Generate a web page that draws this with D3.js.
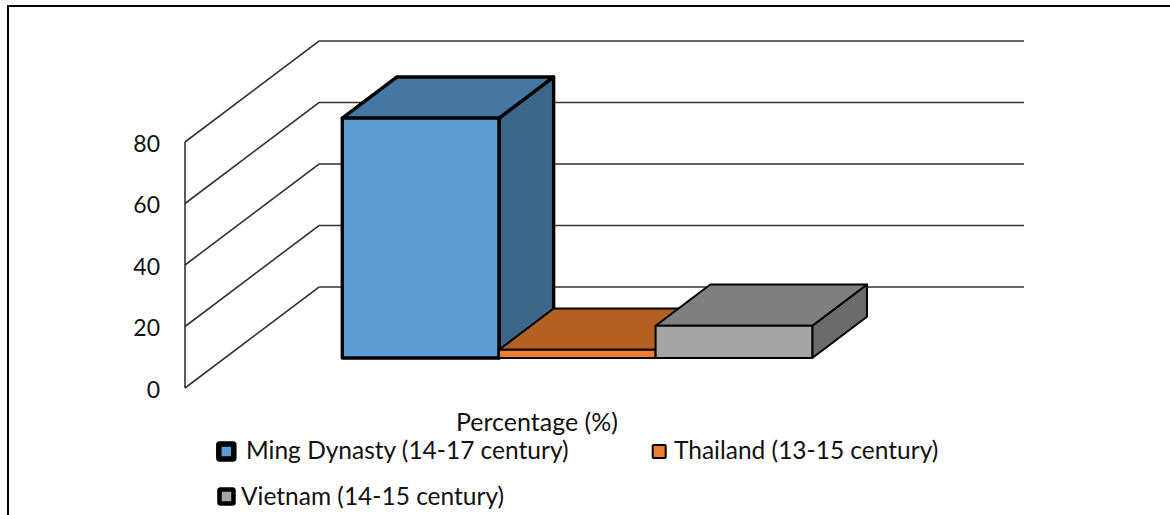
<!DOCTYPE html>
<html>
<head>
<meta charset="utf-8">
<script src="https://cdn.jsdelivr.net/npm/d3@7/dist/d3.min.js"></script>
<style>
  html, body { margin: 0; padding: 0; background: #fff; overflow: hidden; }
  svg { display: block; }
  text { font-family: Lato, "Open Sans", sans-serif; fill: #111; }
</style>
</head>
<body>
<svg id="chart" width="1170" height="515"></svg>
<script>
var seriesNames = ["Ming Dynasty (14-17 century)", "Thailand (13-15 century)", "Vietnam (14-15 century)"];
var seriesValues = [78, 2.7, 10.5];
var tickValues = [0, 20, 40, 60, 80];
var axisTitle = "Percentage (%)";
var frontColors = ["#5b9bd5", "#ed7d31", "#a5a5a5"];
var topColors = ["#4677a3", "#b36022", "#7f7f7f"];
var sideColors = ["#3b6589", "#a45820", "#6b6b6b"];

var svg = d3.select("#chart");

// 3d box projection: depth 0 is the front of the floor, depth 1 the back wall
var depthX = d3.scaleLinear().domain([0, 1]).range([0, 134]);
var depthY = d3.scaleLinear().domain([0, 1]).range([0, -101]);
var y = d3.scaleLinear().domain([0, 80]).range([388, 142]);
var x = d3.scaleBand().domain(seriesNames).range([185, 890]).paddingInner(0).paddingOuter(0.75);
var barDepth = [0.297, 0.705];

function point(px, value, depth) {
  return [px + depthX(depth), y(value) + depthY(depth)];
}

// frame of the pasted figure, open on the right
svg.append("path")
  .attr("d", "M8,515V6H1170")
  .attr("fill", "none")
  .attr("stroke", "#000")
  .attr("stroke-width", 2);

function drawGrid() {
  var grid = svg.append("g")
    .attr("fill", "none")
    .attr("stroke", "#333")
    .attr("stroke-width", 1.6);
  var line = d3.line();

  grid.selectAll("path.grid")
    .data(tickValues)
    .enter().append("path")
    .attr("class", "grid")
    .attr("d", function(d) {
      return line([point(x.range()[0], d, 0), point(x.range()[0], d, 1), point(x.range()[1], d, 1)]);
    });

  grid.append("path")
    .attr("d", line([point(x.range()[0], 0, 0), point(x.range()[0], 80, 0)]));
}

function drawAxis() {
  var axis = d3.axisLeft(y).tickValues(tickValues).tickSize(0).tickPadding(25);
  var g = svg.append("g")
    .attr("transform", "translate(185,2)")
    .call(axis);
  g.select(".domain").remove();
  g.selectAll("text")
    .attr("font-size", 23)
    .style("font-family", "Lato, sans-serif");
}

function drawBars() {
  var line = d3.line();
  var bars = svg.selectAll("g.bar")
    .data(seriesNames)
    .enter().append("g")
    .attr("class", "bar")
    .attr("stroke", "#000")
    .attr("stroke-linejoin", "round")
    .attr("stroke-width", function(d, i) { return i === 0 ? 3.4 : 2; });

  bars.append("path")
    .attr("fill", function(d, i) { return sideColors[i]; })
    .attr("d", function(d, i) {
      var l = x(d) + x.bandwidth();
      return line([point(l, 0, barDepth[0]), point(l, 0, barDepth[1]),
        point(l, seriesValues[i], barDepth[1]), point(l, seriesValues[i], barDepth[0])]) + "Z";
    });

  bars.append("path")
    .attr("fill", function(d, i) { return topColors[i]; })
    .attr("d", function(d, i) {
      var l = x(d), r = l + x.bandwidth(), v = seriesValues[i];
      return line([point(l, v, barDepth[0]), point(l, v, barDepth[1]),
        point(r, v, barDepth[1]), point(r, v, barDepth[0])]) + "Z";
    });

  bars.append("path")
    .attr("fill", function(d, i) { return frontColors[i]; })
    .attr("d", function(d, i) {
      var l = x(d), r = l + x.bandwidth(), v = seriesValues[i];
      return line([point(l, 0, barDepth[0]), point(l, v, barDepth[0]),
        point(r, v, barDepth[0]), point(r, 0, barDepth[0])]) + "Z";
    });
}

function drawLegend() {
  var legendPos = [
    { sx: 218.8, sy: 444, size: 15, sw: 5.5, tx: 246, ty: 459 },
    { sx: 652.7, sy: 445, size: 13, sw: 2, tx: 674, ty: 459 },
    { sx: 219.5, sy: 489.5, size: 14, sw: 4.5, tx: 241, ty: 505 }
  ];

  var items = svg.selectAll("g.legend")
    .data(seriesNames)
    .enter().append("g")
    .attr("class", "legend");

  items.append("rect")
    .attr("x", function(d, i) { return legendPos[i].sx; })
    .attr("y", function(d, i) { return legendPos[i].sy; })
    .attr("width", function(d, i) { return legendPos[i].size; })
    .attr("height", function(d, i) { return legendPos[i].size; })
    .attr("rx", 1)
    .attr("stroke", "#000")
    .attr("stroke-width", function(d, i) { return legendPos[i].sw; })
    .attr("fill", function(d, i) { return frontColors[i]; });

  items.append("text")
    .attr("x", function(d, i) { return legendPos[i].tx; })
    .attr("y", function(d, i) { return legendPos[i].ty; })
    .attr("font-size", 24.5)
    .text(function(d) { return d; });

  svg.append("text")
    .attr("x", 537)
    .attr("y", 431)
    .attr("text-anchor", "middle")
    .attr("font-size", 25)
    .text(axisTitle);
}

drawGrid();
drawAxis();
drawBars();
drawLegend();
</script>
</body>
</html>
